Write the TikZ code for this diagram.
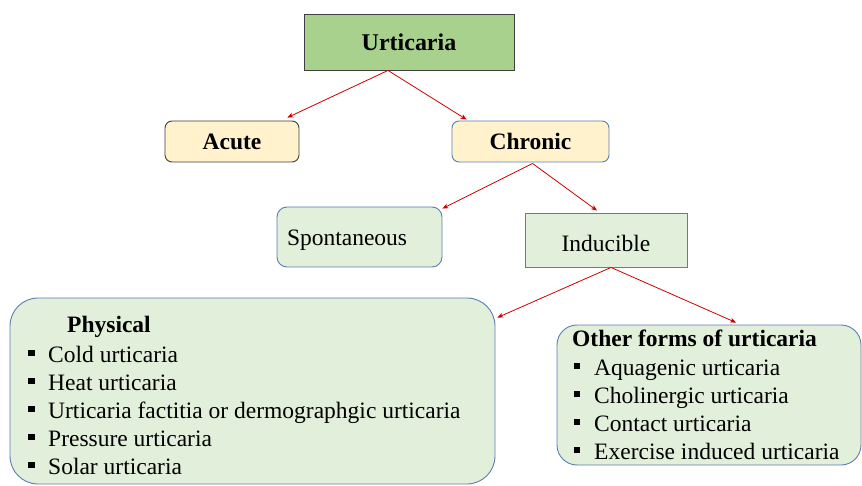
\documentclass[tikz,border=0pt]{standalone}
\usepackage{fontspec}
\setmainfont{Liberation Serif}
\usetikzlibrary{arrows.meta}

\definecolor{headgreen}{HTML}{A9D18E}
\definecolor{paleyellow}{HTML}{FFF2CC}
\definecolor{palegreen}{HTML}{E2EFDA}
\definecolor{edgeblue}{HTML}{5B7DB4}
\definecolor{edgegray}{HTML}{3F3F3F}
\definecolor{arrowred}{HTML}{CC0000}

\begin{document}
\begin{tikzpicture}[x=1pt, y=-1pt]
\tikzstyle{box}=[draw=edgeblue, line width=0.9pt, inner sep=0pt, font=\fontsize{23.5}{28}\selectfont]
\tikzstyle{head box}=[box, draw=edgegray, fill=headgreen, font=\fontsize{24}{28}\selectfont\bfseries, minimum width=210pt, minimum height=56pt]
\tikzstyle{type box}=[box, fill=paleyellow, rounded corners=7pt, font=\fontsize{23.5}{28}\selectfont\bfseries, minimum height=41pt]
\tikzstyle{sub box}=[box, fill=palegreen]
\tikzstyle{item}=[inner sep=0pt, anchor=base west, font=\fontsize{23.5}{28}\selectfont]
\tikzstyle{bullet}=[fill=black, inner sep=0pt, minimum width=6.5pt, minimum height=6.5pt]
\tikzstyle{arr}=[-{Stealth[length=6pt, width=5pt]}, arrowred, line width=0.8pt]

\useasboundingbox (0,0) rectangle (862,486);

% top level
\node[head box] (urt) at (409,42) {Urticaria};
\node[type box, draw=edgegray, minimum width=134pt] (acute) at (232,141.5) {Acute};
\node[type box, minimum width=157pt] (chronic) at (530.5,141.5) {Chronic};

% chronic branches
\node[sub box, rounded corners=10pt, minimum width=165pt, minimum height=60pt] (spont) at (359.5,237) {\raisebox{-3pt}[\height][\depth]{\makebox[145pt][l]{Spontaneous}}};
\node[sub box, minimum width=162pt, minimum height=54pt] (induc) at (606,240) {\raisebox{-3pt}[\height][\depth]{Inducible}};

% inducible branches
\node[sub box, rounded corners=28pt, minimum width=485pt, minimum height=186pt] (phys) at (252.5,391) {};
\node[sub box, rounded corners=20pt, minimum width=304pt, minimum height=140pt] (other) at (709,395) {};

\node[item, font=\fontsize{23.5}{28}\selectfont\bfseries] (phys-head) at (67,333) {Physical};
\foreach \txt [count=\i] in {Cold urticaria, Heat urticaria, {Urticaria factitia or dermographgic urticaria}, Pressure urticaria, Solar urticaria} {
    \node[item] (phys-\i) at (48, 334+28*\i) {\txt};
    \node[bullet] (phys-b\i) at (31.5, 325+28*\i) {};
}

\node[item, font=\fontsize{23.5}{28}\selectfont\bfseries] (other-head) at (572,346) {Other forms of urticaria};
\foreach \txt [count=\i] in {Aquagenic urticaria, Cholinergic urticaria, Contact urticaria, Exercise induced urticaria} {
    \node[item] (other-\i) at (594, 347+28*\i) {\txt};
    \node[bullet] (other-b\i) at (577, 338+28*\i) {};
}

% connectors
\draw[arr] ([xshift=-21pt]urt.south) -- ([xshift=-12pt, yshift=3pt]acute.north east);
\draw[arr] ([xshift=-21pt]urt.south) -- ([xshift=15pt, yshift=1pt]chronic.north west);
\draw[arr] ([xshift=2pt, yshift=-1pt]chronic.south) -- ([yshift=-2pt]spont.north east);
\draw[arr] ([xshift=2pt, yshift=-1pt]chronic.south) -- ([xshift=-9pt, yshift=2pt]induc.north);
\draw[arr] ([xshift=5pt]induc.south) -- ([xshift=2pt, yshift=-20pt]phys.north east);
\draw[arr] ([xshift=5pt]induc.south) -- ([xshift=27pt, yshift=2pt]other.north);
\end{tikzpicture}
\end{document}
